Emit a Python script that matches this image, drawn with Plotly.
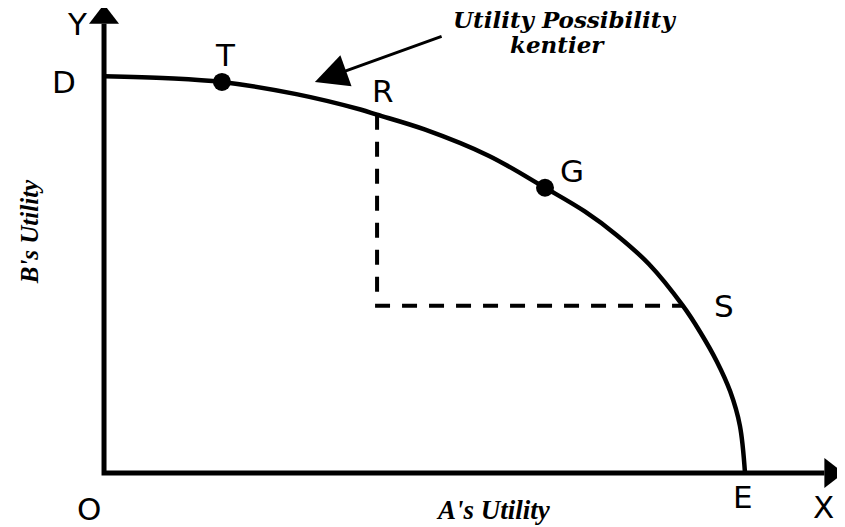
import plotly.graph_objects as go

# Frontier (A's utility, B's utility)
frontier_a = [0.0, 1.0, 1.84, 3.0, 4.0, 4.26, 5.0, 6.0, 6.88, 7.5, 8.0, 8.5, 9.03, 9.3, 9.56, 9.77, 9.92, 10.0]
frontier_b = [6.19, 6.16, 6.10, 5.91, 5.67, 5.59, 5.36, 4.95, 4.45, 4.08, 3.71, 3.26, 2.61, 2.20, 1.74, 1.27, 0.74, 0.0]

# Points on frontier
dot_names = ["T", "G"]
dot_a = [1.84, 6.88]
dot_b = [6.10, 4.45]

# R and S
r_point = (4.26, 5.59)
s_point = (9.03, 2.61)

# Axis extents
x_axis_end = 11.34
y_axis_end = 7.11

FONT_SANS = "DejaVu Sans"
FONT_SERIF = "Liberation Serif"
FONT_WIDE_SERIF = "DejaVu Serif"

fig = go.Figure()

# axes lines
fig.add_shape(type="path", xref="x", yref="y",
              path=f"M 0,{y_axis_end - 0.1} L 0,0 L {x_axis_end - 0.1},0",
              line=dict(color="black", width=5))

# arrowheads of axes
fig.add_trace(go.Scatter(x=[0], y=[y_axis_end], mode="markers",
                         marker=dict(symbol="triangle-up", size=26, color="black"),
                         hoverinfo="skip", showlegend=False))
fig.add_trace(go.Scatter(x=[x_axis_end], y=[0], mode="markers",
                         marker=dict(symbol="triangle-right", size=26, color="black"),
                         hoverinfo="skip", showlegend=False))

# dashed lines from R down and across to S
fig.add_trace(go.Scatter(x=[r_point[0], r_point[0], s_point[0]],
                         y=[r_point[1], s_point[1], s_point[1]],
                         mode="lines",
                         line=dict(color="black", width=4, dash="15px,12px"),
                         hoverinfo="skip", showlegend=False))

# frontier curve
fig.add_trace(go.Scatter(x=frontier_a, y=frontier_b, mode="lines",
                         line=dict(color="black", width=4.5, shape="spline", smoothing=1.0),
                         hoverinfo="skip", showlegend=False))

# dots
fig.add_trace(go.Scatter(x=dot_a, y=dot_b, mode="markers",
                         marker=dict(size=18, color="black"),
                         hoverinfo="skip", showlegend=False))

letter_font = dict(family=FONT_SANS, size=31, color="black")
labels = [
    ("Y", -0.42, 7.01),
    ("D", -0.62, 6.10),
    ("T", 1.90, 6.52),
    ("R", 4.35, 5.96),
    ("G", 7.30, 4.71),
    ("S", 9.67, 2.61),
    ("E", 9.97, -0.37),
    ("X", 11.22, -0.53),
    ("O", -0.23, -0.56),
]
for txt, x, y in labels:
    fig.add_annotation(x=x, y=y, text=txt, showarrow=False, font=letter_font)

fig.add_annotation(x=6.08, y=-0.58, text="<b><i>A's Utility</i></b>", showarrow=False,
                   font=dict(family=FONT_SERIF, size=27, color="black"))
fig.add_annotation(x=-1.15, y=3.76, text="<b><i>B's Utility</i></b>", showarrow=False,
                   font=dict(family=FONT_SERIF, size=25, color="black"), textangle=-90)
fig.add_annotation(x=7.19, y=7.08, text="<b><i>Utility Possibility</i></b>", showarrow=False,
                   font=dict(family=FONT_WIDE_SERIF, size=23, color="black"))
fig.add_annotation(x=7.07, y=6.68, text="<b><i>kentier</i></b>", showarrow=False,
                   font=dict(family=FONT_WIDE_SERIF, size=23, color="black"))

# pointer arrow
fig.add_annotation(x=3.29, y=6.10, ax=5.29, ay=6.82, xref="x", yref="y", axref="x", ayref="y",
                   text="", showarrow=True, arrowhead=2, arrowwidth=3, arrowsize=2.2,
                   arrowcolor="black")

fig.update_layout(
    width=845, height=527,
    margin=dict(l=0, r=0, t=0, b=0),
    paper_bgcolor="white", plot_bgcolor="white",
    xaxis=dict(range=[-1.498, 11.685], visible=False, fixedrange=True),
    yaxis=dict(range=[-0.967, 7.254], visible=False, fixedrange=True),
    showlegend=False,
)

fig.write_html("out.html")
